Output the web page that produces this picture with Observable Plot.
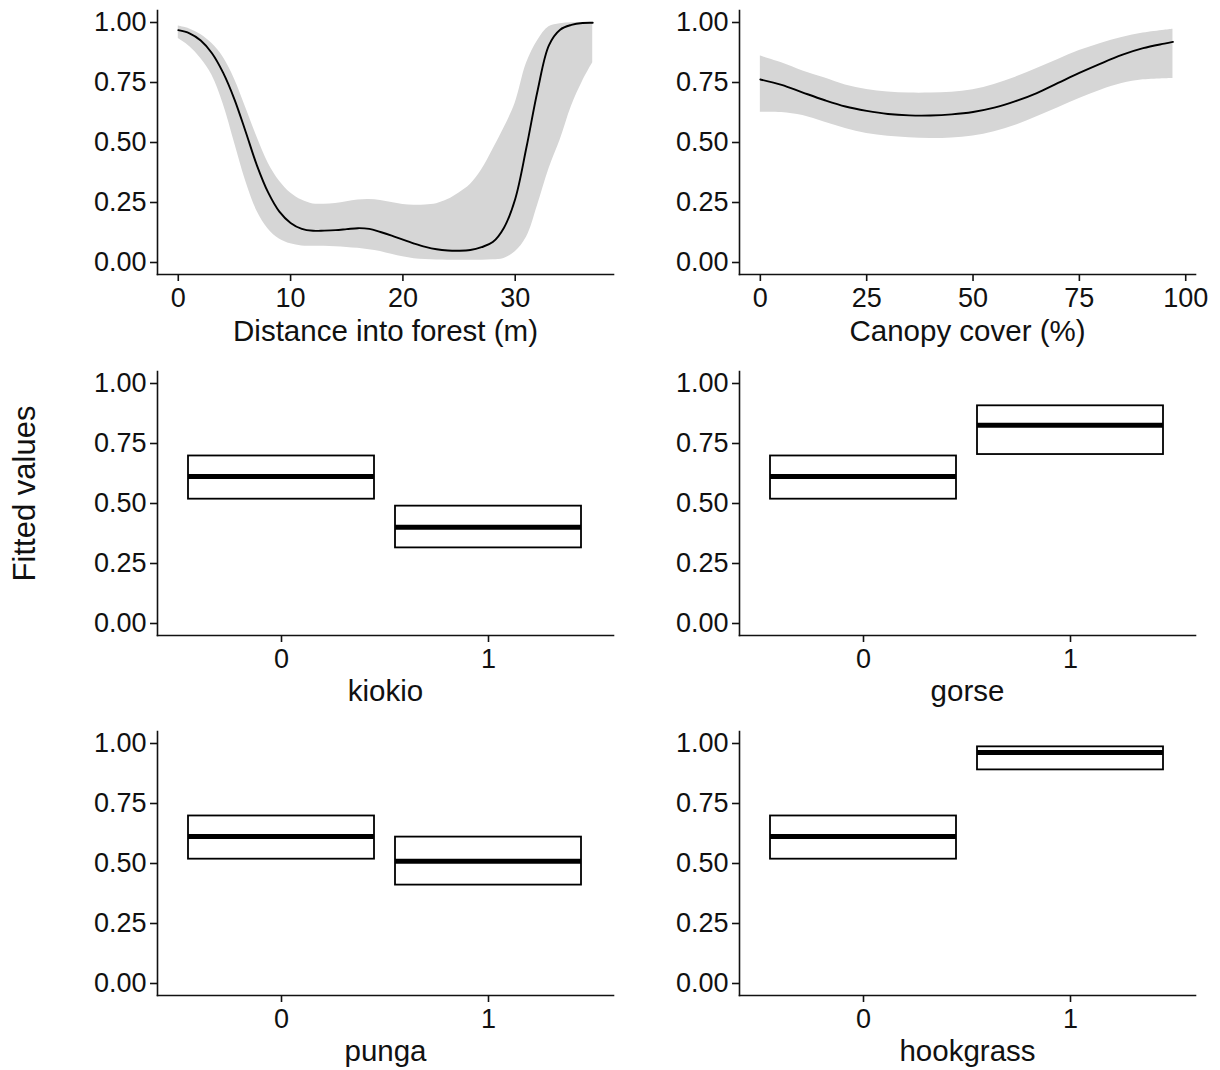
<!DOCTYPE html>
<html><head><meta charset="utf-8">
<script src="https://cdn.jsdelivr.net/npm/d3@7"></script>
<script src="https://cdn.jsdelivr.net/npm/@observablehq/plot@0.6"></script>
<style>
body{margin:0;background:#fff;}
#fig{position:relative;width:1220px;height:1070px;background:#fff;}
.cell{position:absolute;}
.cell svg{display:block;overflow:visible;}
</style></head>
<body><div id="fig"></div>
<script>
// ---- Data: Distance into forest ----
const distX   = [0,1,2,3,4,5,6,7,8,9,10,11,12,13,14,15,16,17,18,19,20,21,22,23,24,25,26,27,28,29,30,31,32,33,34,35,36,36.9];
const distFit = [0.968,0.955,0.925,0.872,0.79,0.68,0.545,0.405,0.292,0.212,0.165,0.14,0.132,0.133,0.135,0.139,0.143,0.14,0.127,0.112,0.095,0.079,0.065,0.055,0.05,0.049,0.052,0.064,0.085,0.145,0.265,0.48,0.718,0.905,0.97,0.99,0.998,0.999];
const distHi  = [0.985,0.973,0.95,0.912,0.855,0.765,0.646,0.524,0.415,0.34,0.29,0.26,0.244,0.243,0.246,0.253,0.26,0.262,0.258,0.25,0.242,0.239,0.24,0.245,0.262,0.29,0.325,0.385,0.47,0.56,0.665,0.83,0.925,0.982,0.995,0.999,0.999,0.999];
const distLo  = [0.933,0.90,0.85,0.78,0.66,0.50,0.34,0.215,0.14,0.098,0.078,0.069,0.068,0.068,0.066,0.063,0.059,0.053,0.046,0.034,0.024,0.016,0.012,0.010,0.0097,0.0097,0.0097,0.0097,0.011,0.017,0.045,0.105,0.24,0.39,0.51,0.65,0.755,0.832];
const distTicks = [0,10,20,30];

// ---- Data: Canopy cover ----
const canopyX   = [0,5,10,15,20,25,30,35,40,45,50,55,60,65,70,75,80,85,90,95,97];
const canopyFit = [0.7625,0.74,0.708,0.677,0.65,0.632,0.619,0.613,0.6125,0.617,0.627,0.645,0.672,0.706,0.748,0.79,0.829,0.865,0.893,0.912,0.919];
const canopyHi  = [0.86,0.832,0.798,0.77,0.74,0.721,0.71,0.706,0.706,0.709,0.72,0.742,0.772,0.808,0.846,0.883,0.913,0.938,0.956,0.968,0.972];
const canopyLo  = [0.626,0.625,0.612,0.585,0.558,0.5375,0.526,0.52,0.517,0.519,0.527,0.545,0.572,0.607,0.645,0.683,0.718,0.746,0.761,0.766,0.767];
const canopyTicks = [0,25,50,75,100];

// ---- Data: factor panels (levels 0 / 1) ----
const levels = ["0","1"];
const kiokioFit = [0.613,0.401], kiokioLo = [0.518,0.315], kiokioHi = [0.698,0.489];
const gorseFit  = [0.613,0.826], gorseLo  = [0.518,0.704], gorseHi  = [0.698,0.907];
const pungaFit  = [0.613,0.509], pungaLo  = [0.518,0.410], pungaHi  = [0.698,0.610];
const hookFit   = [0.613,0.963], hookLo   = [0.518,0.890], hookHi   = [0.698,0.986];

const yTicks = [0,0.25,0.5,0.75,1];
const yTitle = "Fitted values";

// ---- Styling ----
const FONT = "'Liberation Sans', Arial, sans-serif";
const TICK_FS = 27, TITLE_FS = 29.5, YTITLE_FS = 31, AXW = 1.6, TICKLEN = 7;
const yDomain = [-0.05, 1.05];

function yAxis() {
  return Plot.axisY({ticks: yTicks, tickFormat: d3.format(".2f"), tickSize: TICKLEN, tickPadding: 4, strokeWidth: AXW, label: null, fontSize: TICK_FS});
}
function axisLines() {
  return [Plot.frame({anchor: "left", strokeWidth: AXW}), Plot.frame({anchor: "bottom", strokeWidth: AXW})];
}
function xTitleMark(t, dy) {
  return Plot.text([t], {text: d => d, frameAnchor: "bottom", lineAnchor: "middle", dy, fontSize: TITLE_FS});
}

function place(el, left, top) {
  const d = document.createElement("div");
  d.className = "cell";
  d.style.left = left + "px"; d.style.top = top + "px";
  d.appendChild(el);
  document.getElementById("fig").appendChild(d);
}

const COLS = [{left: 0, width: 620, ml: 157, mr: 7}, {left: 620, width: 600, ml: 119, mr: 25}];
const ROWS = [{top: 0, height: 360, mt: 10, mb: 86, tdy: 57},
              {top: 360, height: 360, mt: 11, mb: 85, tdy: 56},
              {top: 720, height: 350, mt: 11, mb: 75, tdy: 56}];

function curvePanel(col, row, xs, fit, lo, hi, xDomain, ticks, title) {
  const data = xs.map((x, i) => ({x, fit: fit[i], lo: lo[i], hi: hi[i]}));
  const c = COLS[col], r = ROWS[row];
  return Plot.plot({
    width: c.width, height: r.height,
    marginLeft: c.ml, marginRight: c.mr, marginTop: r.mt, marginBottom: r.mb,
    style: {fontFamily: FONT, fontSize: TICK_FS + "px", color: "#111", background: "transparent"},
    x: {domain: xDomain},
    y: {domain: yDomain},
    marks: [
      Plot.areaY(data, {x: "x", y1: "lo", y2: "hi", fill: "#d6d6d6", curve: "catmull-rom"}),
      Plot.line(data, {x: "x", y: "fit", stroke: "#000", strokeWidth: 1.9, curve: "catmull-rom"}),
      ...axisLines(),
      yAxis(),
      Plot.axisX({ticks, tickSize: TICKLEN, tickPadding: 6, strokeWidth: AXW, label: null, fontSize: TICK_FS}),
      xTitleMark(title, r.tdy)
    ]
  });
}

function factorPanel(col, row, fit, lo, hi, title, extra = []) {
  const data = levels.map((l, i) => ({l, fit: fit[i], lo: lo[i], hi: hi[i]}));
  const c = COLS[col], r = ROWS[row];
  return Plot.plot({
    width: c.width, height: r.height,
    marginLeft: c.ml, marginRight: c.mr, marginTop: r.mt, marginBottom: r.mb,
    style: {fontFamily: FONT, fontSize: TICK_FS + "px", color: "#111", background: "transparent"},
    x: {type: "band", domain: levels, paddingInner: 0.1, paddingOuter: 0.15},
    y: {domain: yDomain},
    marks: [
      Plot.barY(data, {x: "l", y1: "lo", y2: "hi", fill: "#fff", stroke: "#000", strokeWidth: 1.8}),
      Plot.tickY(data, {x: "l", y: "fit", stroke: "#000", strokeWidth: 5}),
      ...axisLines(),
      yAxis(),
      Plot.axisX({tickSize: TICKLEN, tickPadding: 6, strokeWidth: AXW, label: null, fontSize: TICK_FS}),
      xTitleMark(title, r.tdy),
      ...extra
    ]
  });
}

place(curvePanel(0, 0, distX, distFit, distLo, distHi, [-1.85, 38.75], distTicks, "Distance into forest (m)"), COLS[0].left, ROWS[0].top);
place(curvePanel(1, 0, canopyX, canopyFit, canopyLo, canopyHi, [-4.9, 102.3], canopyTicks, "Canopy cover (%)"), COLS[1].left, ROWS[0].top);
place(factorPanel(0, 1, kiokioFit, kiokioLo, kiokioHi, "kiokio",
  [Plot.text([yTitle], {text: d => d, frameAnchor: "left", textAnchor: "middle", lineAnchor: "middle", dx: -132, dy: -10, rotate: -90, fontSize: YTITLE_FS})]), COLS[0].left, ROWS[1].top);
place(factorPanel(1, 1, gorseFit, gorseLo, gorseHi, "gorse"), COLS[1].left, ROWS[1].top);
place(factorPanel(0, 2, pungaFit, pungaLo, pungaHi, "punga"), COLS[0].left, ROWS[2].top);
place(factorPanel(1, 2, hookFit, hookLo, hookHi, "hookgrass"), COLS[1].left, ROWS[2].top);
</script></body></html>
